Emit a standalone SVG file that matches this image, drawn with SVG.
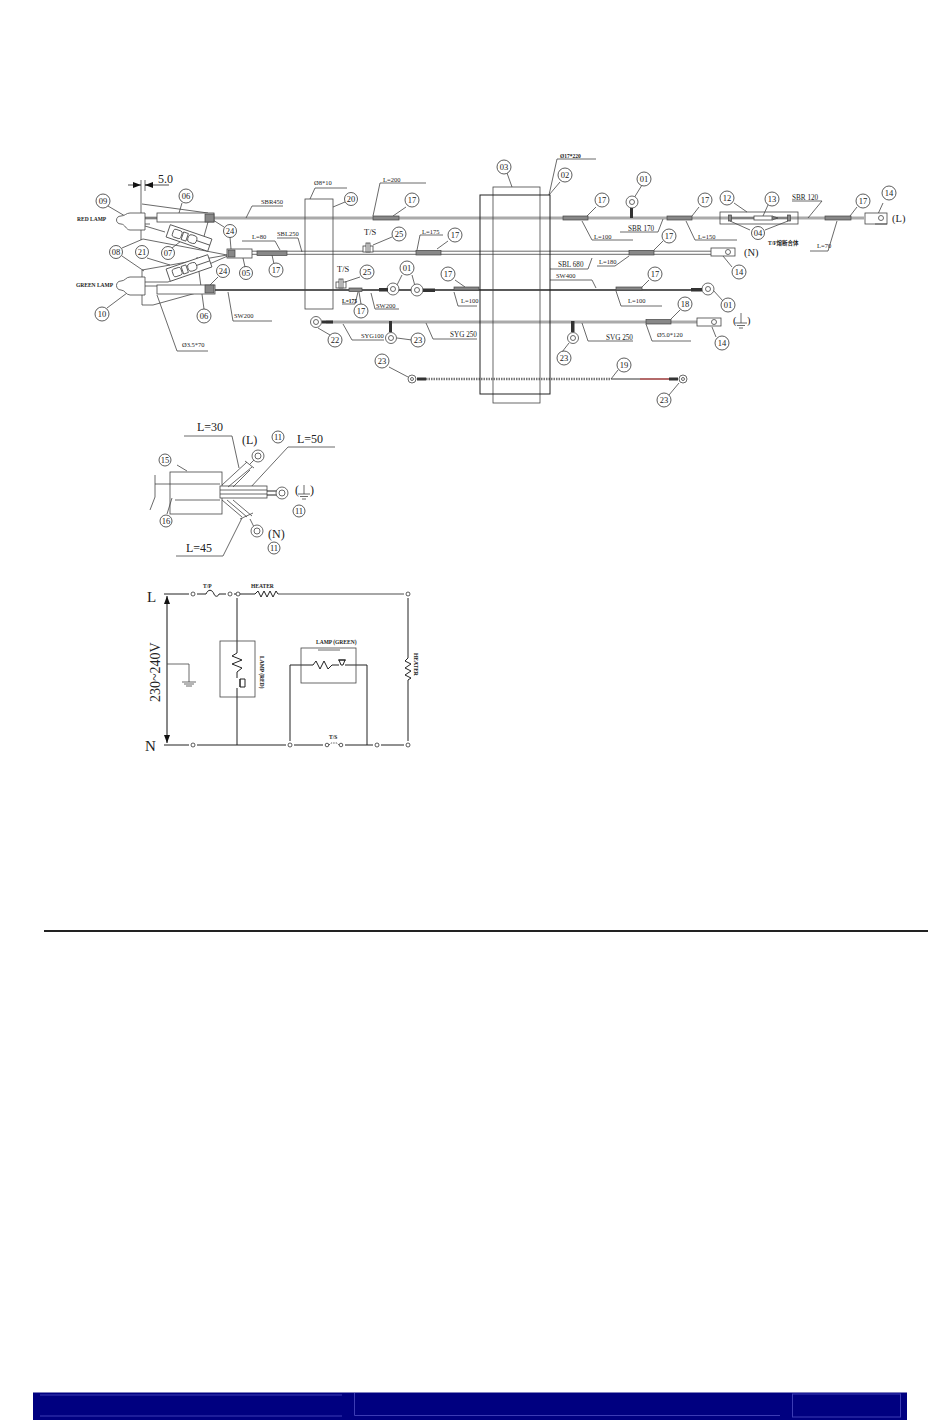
<svg xmlns="http://www.w3.org/2000/svg" width="950" height="1420" viewBox="0 0 950 1420">
<style>
text{font-family:"Liberation Serif","Noto Sans CJK SC",serif;fill:#222}
.b circle{fill:#fff;stroke:#333;stroke-width:.8}
.b text{font-size:8.5px;text-anchor:middle}
.l{fill:none;stroke:#444;stroke-width:.8}
.k{fill:none;stroke:#222;stroke-width:1}
.g{fill:none;stroke:#aaa;stroke-width:3}
.s{fill:#888;stroke:#444;stroke-width:.7}
.w{fill:#fff;stroke:#444;stroke-width:.8}
.c{fill:#333;stroke:none}
.t5{font-size:5.5px;font-weight:bold}
.t6{font-size:6.5px}
.t7{font-size:7.200px}
.t8{font-size:8.5px}
.t10{font-size:10.5px}
.t14{font-size:12px}
.f{fill:none;stroke:#3c3cb4;stroke-width:1}
</style>
<defs>
<marker id="a" viewBox="0 0 8 6" refX="8" refY="3" markerWidth="8" markerHeight="6" orient="auto-start-reverse" markerUnits="userSpaceOnUse"><path d="M0 0L8 3L0 6Z" fill="#111"/></marker>
<g id="ts"><rect x="0" y="3" width="10" height="6" class="w"/><rect x="3" y="0" width="4" height="9" class="w"/><path d="M5 0V9" class="l"/></g>
<g id="fuse"><rect x="-22" y="-6.500" width="44" height="13" class="w"/><rect x="-17" y="-4" width="9" height="8" rx="2" class="w"/><rect x="-7" y="-4" width="5" height="8" class="w"/><rect x="-1" y="-4" width="9" height="8" rx="3" class="w"/><path d="M8 0H22" class="l"/></g>
</defs>
<rect width="950" height="1420" fill="#fff"/>

<g id="connectors">
<path d="M145 218H864" class="g"/>
<path d="M252 251.200H711M252 254.300H711" class="l"/>
<path d="M215 290H691" stroke="#222" fill="none" stroke-width="1.400"/>
<path d="M326 322H697" class="g"/>
<path d="M426 379H611" stroke="#777" stroke-width="2.500" stroke-dasharray="1.500 1" fill="none"/>
<path d="M611 379H640" stroke="#999" stroke-width="2" fill="none"/>
<path d="M640 379H669" stroke="#b46a6a" stroke-width="2" fill="none"/>
<path d="M141 180V240M145 180V191M142 204L208 213M142 270V305H153L207 290M145 226L165 232M143 239L227 255M142 270L227 255M145 282H168L230 255M145 224H150" class="l"/>
<path d="M145 218H157M145 286H157" class="l"/>
<path d="M135 185H141" stroke="#222" stroke-width=".8" marker-end="url(#a)"/>
<path d="M128 185H135M145 185H169" stroke="#222" stroke-width=".8"/>
<path d="M151 185H145" stroke="#222" stroke-width=".8" marker-end="url(#a)"/>
<path d="M108 206L125 216M182 203L179 213M224 227L213 220M218 277L208 287M230 237L231 249M245 267L243 258M274 264L272 255M122 248L143 239M122 256L144 271M147 258L170 265M172 248L185 238M107 308L127 293M204 309L197 257M208 222L201 247" class="l"/>
<path d="M246 218L252 206H283M242 241H275L280 250M277 238H298L302 252M228 292L233 321H272M157 295L177 351H208M310 199L315 188H347" class="l"/>
<path d="M345 202L333 207M380 183H426M380 183L373 216M406 207L393 216M392 237L373 245M360 277L345 282M420 235H443M420 235L417 250M448 241L437 249" class="l"/>
<path d="M402 275L397 285M412 275L415 286M371 293L375 309H399M342 304H355L358 292M359 292L361 304M454 292L458 306H477M455 280L465 287" class="l"/>
<path d="M343 324L352 340H384M426 323L433 339H477M397 338L412 340M569 343L562 352M318 328L330 335M389 367L408 377M679 383L669 395M618 370L611 379" class="l"/>
<path d="M507 173L512 187M560 182L549 195M557 159H596M557 159L549 195M550 269H588L592 258M550 280H592L596 288" class="l"/>
<path d="M620 232H658L663 219M642 185L634 198M582 221L592 240H633M596 207L587 216M699 207L692 216M686 221L695 240H737M734 203L747 212M768 205L763 216M750 230L730 221M765 230L788 221" class="l"/>
<path d="M792 201H822L808 218M857 207L850 216M810 251H828L837 221M883 203L878 214M732 267L723 256M663 241L654 250M597 266H615L629 256M649 280L642 287M616 291L621 306H662M713 290L723 301M680 310L671 319M646 324L652 341H691M716 337L712 327M582 323L588 341H633" class="l"/>
<path d="M184 436H232L239 468M335 447H288L250 488M176 556H223L242 518" class="l"/>
<path d="M155 484H220M175 500H220M155 475V497L150 510M177 465L187 471M172 498L167 514" class="l"/>
<path d="M164 594H189M197 594H206M219 594H226M234 594H255M408 598V658M408 680V741M237 598V653M237 672V678M237 688V745M164 745H189M197 745H286M294 745H323M345 745H373M381 745H404" class="k"/>
<path d="M278 594H404" stroke="#888" stroke-width="1.500"/>
<path d="M167 596V743" stroke="#111" stroke-width="1" marker-start="url(#a)" marker-end="url(#a)"/>
<path d="M167 664H189V682M182 682H196M184 684H194M186 686H192" class="l"/>
<path d="M290 741V665H313M332 665H339M345 665H367V745" class="k"/>
</g>

<g id="frames">
<rect x="305" y="199" width="28" height="110" class="l"/>
<rect x="493" y="187" width="47" height="216" class="l"/>
<rect x="480" y="195" width="70" height="199" class="k"/>
<rect x="720" y="212" width="78" height="12" class="l"/>
</g>

<g id="lamp-red"><path d="M145 213H130C126 213 125 216 121 216C115 216 115 224 121 224C125 224 126 230 130 230H145V213Z" class="w"/></g>
<g id="lamp-green"><path d="M145 277H130C126 277 125 281 121 281C115 281 115 290 121 290C125 290 126 295 130 295H145V277Z" class="w"/></g>
<g id="fuse-holders"><use href="#fuse" transform="translate(189 238) rotate(19)"/><use href="#fuse" transform="translate(189 268) rotate(-19)"/></g>

<g id="sleeves">
<rect x="157" y="213" width="57" height="9" class="w"/><rect x="157" y="285" width="58" height="9" class="w"/>
<rect x="205" y="214" width="9" height="8" class="s"/><rect x="205" y="285" width="9" height="8" class="s"/>
<rect x="227" y="249" width="25" height="9" class="w"/><rect x="228" y="250" width="7" height="7" class="s"/>
<rect x="257" y="251" width="30" height="4.500" class="s"/>
<rect x="373" y="216" width="26" height="4" class="s"/><rect x="563" y="216" width="25" height="4" class="s"/><rect x="667" y="216" width="25" height="4" class="s"/><rect x="825" y="216" width="26" height="4" class="s"/>
<rect x="416" y="250.500" width="25" height="4.500" class="s"/><rect x="629" y="250.500" width="25" height="4.500" class="s"/>
<rect x="349" y="288" width="13" height="3.500" class="s"/><rect x="454" y="287" width="25" height="3" class="s"/><rect x="616" y="287" width="26" height="3" class="s"/><rect x="646" y="319.500" width="25" height="4.500" class="s"/>
</g>

<g id="terminals">
<rect x="865" y="213" width="22" height="11" class="w"/><circle cx="881" cy="218" r="2.500" class="w"/><path d="M875 224H887" class="l"/>
<rect x="711" y="248" width="24" height="8" class="w"/><circle cx="728" cy="252" r="2.500" class="w"/>
<rect x="697" y="318" width="24" height="8" class="w"/><circle cx="714" cy="322" r="2.500" class="w"/>
<circle cx="632" cy="202" r="6" class="w"/><circle cx="632" cy="202" r="2.500" class="l"/><rect x="630" y="208" width="3" height="10" class="c"/>
<circle cx="393" cy="289" r="6" class="w"/><circle cx="393" cy="289" r="2.500" class="l"/><rect x="379" y="288" width="9" height="3.500" class="c"/>
<circle cx="417" cy="290" r="6" class="w"/><circle cx="417" cy="290" r="2.500" class="l"/><rect x="423" y="288.500" width="12" height="3.500" class="c"/>
<circle cx="708" cy="289" r="6" class="w"/><circle cx="708" cy="289" r="2.500" class="l"/><rect x="691" y="288" width="11" height="3.500" class="c"/>
<circle cx="316" cy="322" r="5.500" class="w"/><circle cx="316" cy="322" r="2.500" class="l"/><rect x="322" y="320.500" width="11" height="3" class="c"/>
<circle cx="391" cy="338" r="5.500" class="w"/><circle cx="391" cy="338" r="2.500" class="l"/><rect x="389" y="321" width="3" height="11" class="c"/>
<circle cx="573" cy="338" r="5.500" class="w"/><circle cx="573" cy="338" r="2.500" class="l"/><rect x="571" y="321" width="3.500" height="11" class="c"/>
<circle cx="412" cy="379" r="4" class="w"/><circle cx="412" cy="379" r="1.500" class="l"/><rect x="417" y="377.500" width="9" height="3" class="c"/>
<circle cx="683" cy="379" r="4" class="w"/><circle cx="683" cy="379" r="1.500" class="l"/><rect x="669" y="377.500" width="9" height="3" class="c"/>
<use href="#ts" x="363" y="243"/><use href="#ts" x="336" y="279"/>
<path d="M730 218H754M772 218H789" class="l"/>
<rect x="754" y="216" width="18" height="4" class="w"/><path d="M772 216L778 218L772 220" class="l"/>
<rect x="728.500" y="215" width="3" height="6" class="s"/><rect x="787.500" y="215" width="3" height="6" class="s"/>
<path d="M741 313V323M735 323H747M737 325.500H745M739 328H743" class="l"/>
</g>

<g id="cable-detail">
<rect x="170" y="472" width="52" height="42" class="l"/>
<rect x="220" y="486" width="47" height="12" class="w"/>
<path d="M220 490H267M220 494H267" class="l"/>
<path d="M222 485L247 462M228 487L252 467M233 487L250 470M245 461L254 468M250 464L254 460" class="l"/>
<path d="M222 500L242 517M227 500L247 517M233 500L252 516M240 519L253 513M250 519L254 527" class="l"/>
<path d="M267 491H277M267 495H277" class="k"/>
<circle cx="258" cy="456" r="6" class="w"/><circle cx="258" cy="456" r="3" class="l"/>
<circle cx="282" cy="493" r="6" class="w"/><circle cx="282" cy="493" r="3" class="l"/>
<circle cx="257" cy="531" r="6" class="w"/><circle cx="257" cy="531" r="3" class="l"/>
<path d="M304 485V494M298 494H310M300 496.500H308M302 499H306" class="l"/>
</g>

<g id="schematic">
<rect x="220" y="641" width="35" height="56" class="l"/>
<rect x="301" y="648" width="55" height="35" class="l"/>
<path d="M318 650H340" class="l"/>
<path d="M255 594L258 591L261 597L264 591L267 597L270 591L273 597L276 591L278 594" class="k"/>
<path d="M237 653L232 656L242 660L232 664L242 668L237 672" class="k"/>
<path d="M313 665L316 661L320 669L324 661L328 669L332 665" class="k"/>
<path d="M408 658L405 661L411 664L405 668L411 671L405 675L411 678L408 680" class="k"/>
<path d="M240 679H245V687H240ZM240 679V687" class="k"/>
<path d="M339 660H345L343 665H341ZM338 660H346" class="k"/>
<path d="M206 594C208 589 212 589 214 594C215 597 218 597 219 594" class="k"/>
<path d="M329 745L331 743H337L339 745" class="l" stroke-dasharray="1.500 1"/>
<g fill="#fff" stroke="#333" stroke-width=".8">
<circle cx="193" cy="594" r="2"/><circle cx="230" cy="594" r="2"/><circle cx="238" cy="594" r="2"/><circle cx="408" cy="594" r="2"/>
<circle cx="193" cy="745" r="2"/><circle cx="290" cy="745" r="2"/><circle cx="327" cy="745" r="1.800"/><circle cx="341" cy="745" r="1.800"/><circle cx="377" cy="745" r="2"/><circle cx="408" cy="745" r="2"/>
</g>
</g>

<g id="labels">
<text x="158" y="183" style="font-size:12px">5.0</text>
<text x="77" y="221" class="t5">RED LAMP</text>
<text x="76" y="287" class="t5">GREEN LAMP</text>
<text x="261" y="204" class="t6">SBR450</text>
<text x="252" y="239" class="t6">L=80</text>
<text x="277" y="236" class="t6">SBL250</text>
<text x="234" y="318" class="t6">SW200</text>
<text x="182" y="347" class="t6">Ø3.5*70</text>
<text x="314" y="185" class="t6">Ø8*10</text>
<text x="383" y="182" class="t6">L=200</text>
<text x="422" y="234" class="t6">L=175</text>
<text x="364" y="235" class="t8">T/S</text>
<text x="337" y="272" class="t8">T/S</text>
<text x="376" y="308" class="t6">SW200</text>
<text x="342" y="303" class="t5">L=175</text>
<text x="461" y="303" class="t6">L=100</text>
<text x="361" y="338" class="t6">SYG100</text>
<text x="450" y="337" class="t7">SYG 250</text>
<text x="558" y="267" class="t7">SBL 680</text>
<text x="556" y="278" class="t6">SW400</text>
<text x="560" y="158" class="t5">Ø17*220</text>
<text x="628" y="231" class="t7">SBR 170</text>
<text x="594" y="239" class="t6">L=100</text>
<text x="698" y="239" class="t6">L=150</text>
<text x="768" y="245" class="t5">T/F熔断合体</text>
<text x="792" y="200" class="t7">SBR 120</text>
<text x="817" y="248" class="t6">L=70</text>
<text x="892" y="222" class="t10">(L)</text>
<text x="744" y="256" class="t10">(N)</text>
<text x="599" y="264" class="t6">L=180</text>
<text x="628" y="303" class="t6">L=100</text>
<text x="657" y="337" class="t6">Ø5.0*120</text>
<text x="606" y="340" class="t7">SVG 250</text>
<text x="733" y="324" class="t10">(</text>
<text x="747" y="324" class="t10">)</text>
<text x="197" y="431" class="t14">L=30</text>
<text x="297" y="443" class="t14">L=50</text>
<text x="186" y="552" class="t14">L=45</text>
<text x="242" y="444" class="t14">(L)</text>
<text x="268" y="538" class="t14">(N)</text>
<text x="295" y="494" class="t14">(</text>
<text x="310" y="494" class="t14">)</text>
<text x="147" y="602" style="font-size:15px">L</text>
<text x="145" y="751" style="font-size:15px">N</text>
<text transform="translate(160 702) rotate(-90)" style="font-size:14px">230~240V</text>
<text x="203" y="588" class="t5">T/P</text>
<text x="251" y="588" class="t5">HEATER</text>
<text x="316" y="644" class="t5">LAMP (GREEN)</text>
<text x="329" y="739" class="t5">T/S</text>
<text transform="translate(260 656) rotate(90)" class="t5">LAMP (RED)</text>
<text transform="translate(414 653) rotate(90)" class="t5">HEATER</text>
</g>

<g id="balloons" class="b">
<g id="n09"><circle cx="103" cy="201" r="7"/><text x="103" y="204">09</text></g>
<g id="n06a"><circle cx="186" cy="196" r="7"/><text x="186" y="199">06</text></g>
<g id="n24a"><circle cx="230" cy="231" r="6.500"/><text x="230" y="234">24</text></g>
<g id="n05"><circle cx="246" cy="273" r="6.500"/><text x="246" y="276">05</text></g>
<g id="n17a"><circle cx="276" cy="270" r="7"/><text x="276" y="273">17</text></g>
<g id="n08"><circle cx="116" cy="252" r="6.500"/><text x="116" y="255">08</text></g>
<g id="n21"><circle cx="142" cy="252" r="6.500"/><text x="142" y="255">21</text></g>
<g id="n07"><circle cx="168" cy="253" r="6.500"/><text x="168" y="256">07</text></g>
<g id="n24b"><circle cx="223" cy="271" r="6.500"/><text x="223" y="274">24</text></g>
<g id="n10"><circle cx="102" cy="314" r="7"/><text x="102" y="317">10</text></g>
<g id="n06b"><circle cx="204" cy="316" r="7"/><text x="204" y="319">06</text></g>
<g id="n20"><circle cx="351" cy="199" r="6.500"/><text x="351" y="202">20</text></g>
<g id="n17b"><circle cx="412" cy="200" r="7"/><text x="412" y="203">17</text></g>
<g id="n25a"><circle cx="399" cy="234" r="7"/><text x="399" y="237">25</text></g>
<g id="n17c"><circle cx="455" cy="235" r="7"/><text x="455" y="238">17</text></g>
<g id="n25b"><circle cx="367" cy="272" r="7"/><text x="367" y="275">25</text></g>
<g id="n01a"><circle cx="407" cy="268" r="7"/><text x="407" y="271">01</text></g>
<g id="n17d"><circle cx="448" cy="274" r="7"/><text x="448" y="277">17</text></g>
<g id="n17e"><circle cx="361" cy="311" r="7"/><text x="361" y="314">17</text></g>
<g id="n23a"><circle cx="418" cy="340" r="7"/><text x="418" y="343">23</text></g>
<g id="n22"><circle cx="335" cy="340" r="7"/><text x="335" y="343">22</text></g>
<g id="n23b"><circle cx="382" cy="361" r="7"/><text x="382" y="364">23</text></g>
<g id="n23c"><circle cx="564" cy="358" r="7"/><text x="564" y="361">23</text></g>
<g id="n03"><circle cx="504" cy="167" r="7"/><text x="504" y="170">03</text></g>
<g id="n02"><circle cx="565" cy="175" r="7"/><text x="565" y="178">02</text></g>
<g id="n01b"><circle cx="644" cy="179" r="7"/><text x="644" y="182">01</text></g>
<g id="n17f"><circle cx="602" cy="200" r="7"/><text x="602" y="203">17</text></g>
<g id="n17g"><circle cx="705" cy="200" r="7"/><text x="705" y="203">17</text></g>
<g id="n12"><circle cx="727" cy="198" r="7"/><text x="727" y="201">12</text></g>
<g id="n13"><circle cx="772" cy="199" r="7"/><text x="772" y="202">13</text></g>
<g id="n04"><circle cx="758" cy="233" r="6.500"/><text x="758" y="236">04</text></g>
<g id="n17h"><circle cx="863" cy="201" r="7"/><text x="863" y="204">17</text></g>
<g id="n14a"><circle cx="889" cy="193" r="7"/><text x="889" y="196">14</text></g>
<g id="n17i"><circle cx="669" cy="236" r="7"/><text x="669" y="239">17</text></g>
<g id="n14b"><circle cx="739" cy="272" r="7"/><text x="739" y="275">14</text></g>
<g id="n17j"><circle cx="655" cy="274" r="7"/><text x="655" y="277">17</text></g>
<g id="n01c"><circle cx="728" cy="305" r="7"/><text x="728" y="308">01</text></g>
<g id="n18"><circle cx="685" cy="304" r="7"/><text x="685" y="307">18</text></g>
<g id="n14c"><circle cx="722" cy="343" r="7"/><text x="722" y="346">14</text></g>
<g id="n19"><circle cx="624" cy="365" r="7"/><text x="624" y="368">19</text></g>
<g id="n23d"><circle cx="664" cy="400" r="7"/><text x="664" y="403">23</text></g>
<g id="n11a"><circle cx="278" cy="437" r="6"/><text x="278" y="440">11</text></g>
<g id="n11b"><circle cx="299" cy="511" r="6"/><text x="299" y="514">11</text></g>
<g id="n11c"><circle cx="274" cy="548" r="6"/><text x="274" y="551">11</text></g>
<g id="n15"><circle cx="165" cy="460" r="6"/><text x="165" y="463">15</text></g>
<g id="n16"><circle cx="166" cy="521" r="6"/><text x="166" y="524">16</text></g>
</g>

<g id="rule"><path d="M44 931H928" stroke="#222" stroke-width="2"/></g>

<g id="footer">
<rect x="33" y="1392.500" width="874" height="27.500" fill="#000080"/>
<path d="M40 1395H342M40 1416H342M354.500 1393V1415.500H780" class="f"/>
<rect x="792.500" y="1394" width="108" height="23" class="f"/>
</g>
</svg>
